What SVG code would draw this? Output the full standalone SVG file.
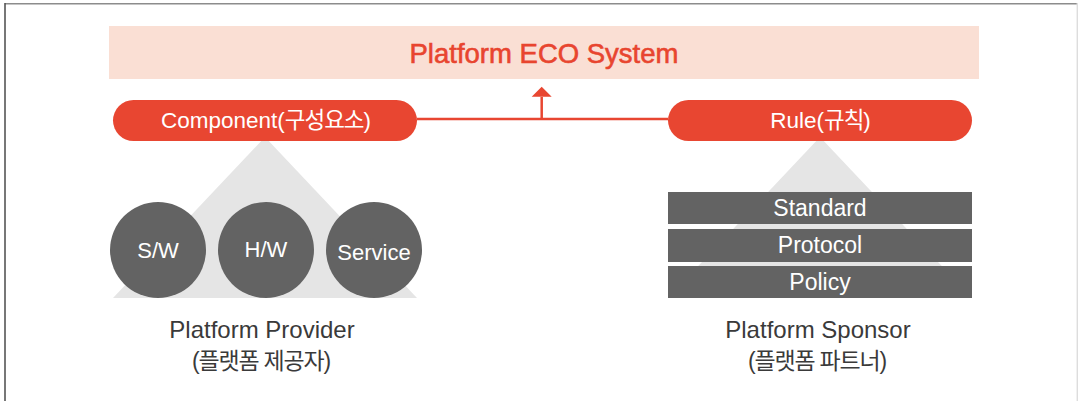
<svg xmlns="http://www.w3.org/2000/svg" width="1078" height="401" viewBox="0 0 1078 401">
<style>
text{font-family:"Liberation Sans","Noto Sans CJK KR",sans-serif;text-anchor:middle}
.pill{fill:#E84631}
.tri{fill:#E5E5E5}
.dk{fill:#636363}
.wt{fill:#FFFFFF;font-size:22.5px}
.lb{fill:#3A3A3A;font-size:24px}
.kr{fill:#3A3A3A;font-size:23px;letter-spacing:-1.2px}
.ks{letter-spacing:-1px}
.conn{stroke:#E84631;stroke-width:2.5;fill:none}
</style>
<g id="frame">
<line x1="5" y1="3.7" x2="1077" y2="3.7" stroke="#8C8C8C" stroke-width="1.6"/>
<line x1="5" y1="3" x2="5" y2="401" stroke="#555" stroke-width="1.6"/>
<line x1="1077.3" y1="3" x2="1077.3" y2="401" stroke="#DDDDDD" stroke-width="1.4"/>
</g>
<g id="eco">
<rect x="109" y="26" width="870" height="53" fill="#FADFD4"/>
<text x="544" y="62.5" style="fill:#E8452F;stroke:#E8452F;stroke-width:0.6px;font-size:27.5px">Platform ECO System</text>
</g>
<g id="connectors">
<line class="conn" x1="417" y1="119" x2="668" y2="119"/>
<path d="M541.7,119 V97" class="conn"/>
<polygon points="541.7,86.7 551.7,96.7 531.7,96.7" fill="#E84631"/>
</g>
<g id="provider">
<polygon class="tri" points="265,137 113,298 417,298"/>
<circle class="dk" cx="158" cy="250" r="48"/>
<circle class="dk" cx="266" cy="250" r="48"/>
<circle class="dk" cx="374" cy="250" r="48"/>
<text class="wt" x="158" y="258" style="font-size:22px">S/W</text>
<text class="wt" x="266" y="257" style="font-size:22px">H/W</text>
<text class="wt" x="374" y="260" style="font-size:22px">Service</text>
<text class="lb" x="262" y="338">Platform Provider</text>
<text class="kr" x="261" y="369">(플랫폼 제공자)</text>
</g>
<g id="component">
<rect class="pill" x="113" y="100" width="304" height="41" rx="20.5"/>
<text class="wt" x="266" y="127.7">Component(<tspan class="ks">구성요소</tspan>)</text>
</g>
<g id="sponsor">
<polygon class="tri" points="820,137 668,298 972,298"/>
<rect class="dk" x="668" y="192" width="304" height="32"/>
<rect class="dk" x="668" y="229" width="304" height="33"/>
<rect class="dk" x="668" y="266" width="304" height="32"/>
<text class="wt" x="820" y="216" style="font-size:23px">Standard</text>
<text class="wt" x="820" y="253.3" style="font-size:23px">Protocol</text>
<text class="wt" x="820" y="290" style="font-size:23px">Policy</text>
<text class="lb" x="818" y="338">Platform Sponsor</text>
<text class="kr" x="817" y="369">(플랫폼 파트너)</text>
</g>
<g id="rule">
<rect class="pill" x="668" y="100" width="304" height="41" rx="20.5"/>
<text class="wt" x="820.5" y="127.7">Rule(<tspan class="ks">규칙</tspan>)</text>
</g>
</svg>
